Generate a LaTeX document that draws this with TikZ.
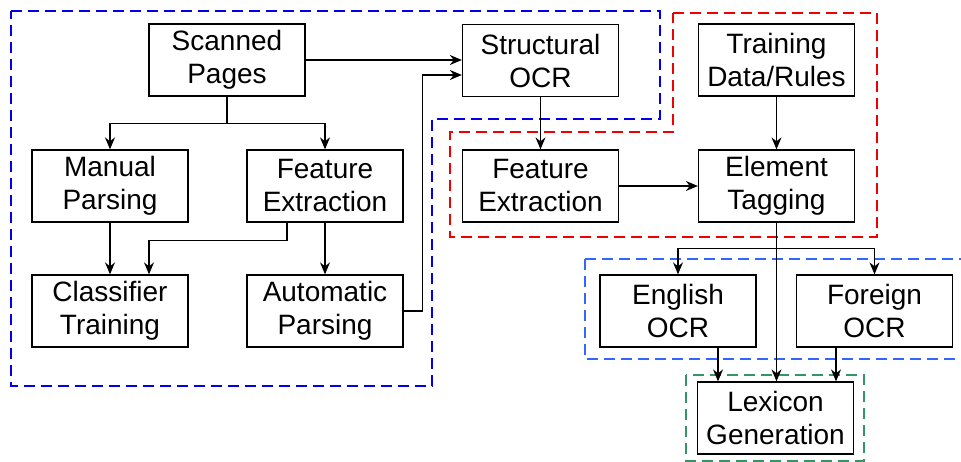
\documentclass[tikz,border=0pt]{standalone}
\usepackage{fontspec}
\setmainfont{Liberation Sans}
\usepackage{tikz}
\usetikzlibrary{arrows.meta,positioning}
\definecolor{grpblue}{RGB}{0,0,235}
\definecolor{grpred}{RGB}{240,0,0}
\definecolor{grplight}{RGB}{51,102,255}
\definecolor{grpgreen}{RGB}{51,150,100}
\newcommand{\boxfont}{\fontsize{28}{33}\selectfont}

\begin{document}
\begin{tikzpicture}[>={Stealth[length=12pt,width=10pt,inset=4pt]},->,x=1pt,y=1pt,node distance=125pt,line width=1.2pt]
  \tikzstyle{block}=[draw,line width=1.3pt,minimum width=156pt,minimum height=72pt,inner sep=0pt,align=center,font=\boxfont]
  \tikzstyle{group}=[-,line width=2pt,dash pattern=on 11pt off 6pt]

  \useasboundingbox (0,0) rectangle (961,-462);
  \clip (0,0) rectangle (961,-462);

  % dashed groups
  \draw[group,grpblue] (11,-11) -- (660,-11) -- (660,-119) -- (432,-119) -- (432,-386) -- (11,-386) -- cycle;
  \draw[group,grpred] (673,-13) -- (877,-13) -- (877,-237) -- (450,-237) -- (450,-132) -- (673,-132) -- cycle;
  \draw[group,grplight] (585,-259) rectangle (975,-359);
  \draw[group,grpgreen] (686,-375) rectangle (864,-461);

  \node[block] (scan)    at (227,-60)           {Scanned\\Pages};
  \node[block] (manual)  at (110,-186)          {Manual\\Parsing};
  \node[block] (featl)   [right of=manual,node distance=215pt] {Feature\\Extraction};
  \node[block] (classif) [below of=manual]      {Classifier\\Training};
  \node[block] (autop)   [below of=featl]       {Automatic\\Parsing};
  \node[block] (featr)   [right of=featl,node distance=215.5pt] {Feature\\Extraction};
  \node[block] (struct)  [above of=featr,node distance=125.5pt] {Structural\\OCR};
  \node[block] (elem)    [right of=featr,node distance=236pt]   {Element\\Tagging};
  \node[block] (train)   [above of=elem,node distance=126pt]    {Training\\Data/Rules};
  \node[block] (eng)     at (678,-311)          {English\\OCR};
  \node[block] (foreign) [right of=eng,node distance=196.5pt]  {Foreign\\OCR};
  \node[block] (lex)     at (775.5,-418)        {Lexicon\\Generation};

  \draw (scan.east) -- (scan.east -| struct.west);
  \draw (autop.east) -- ++(19,0) |- ([yshift=-14.5pt]struct.west);
  \draw (scan.south) -- ++(0,-27) -| (manual.north);
  \draw (scan.south) -- ++(0,-27) -| (featl.north);
  \draw ([xshift=-38pt]featl.south) -- ++(0,-18) -| ([xshift=39pt]classif.north);
  \draw (elem.south) -- ++(0,-26) -| (eng.north);
  \draw (elem.south) -- ++(0,-26) -| (foreign.north);
  \draw ([xshift=40pt]eng.south) -- ([xshift=40pt]eng.south |- lex.north);
  \draw ([xshift=-38.5pt]foreign.south) -- ([xshift=-38.5pt]foreign.south |- lex.north);

  \path (manual) edge (classif)
        (featl)  edge (autop)
        (struct) edge (featr)
        (featr)  edge (elem)
        (train)  edge (elem)
        (elem.south) edge (elem.south |- lex.north);
\end{tikzpicture}
\end{document}
